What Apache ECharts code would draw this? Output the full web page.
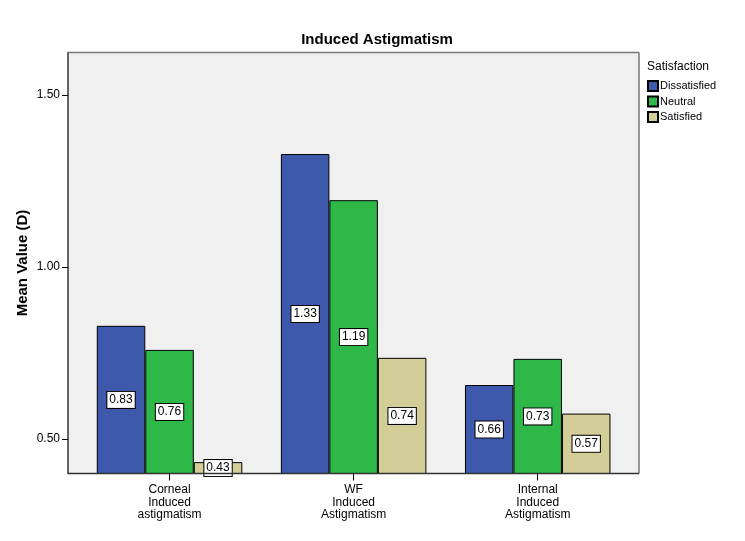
<!DOCTYPE html>
<html>
<head>
<meta charset="utf-8">
<script src="https://cdn.jsdelivr.net/npm/echarts@6/dist/echarts.min.js"></script>
<style>html,body{margin:0;padding:0;background:#fff}#c{width:745px;height:541px}</style>
</head>
<body>
<div id="c"></div>
<script>
var categories = ['Corneal\nInduced\nastigmatism', 'WF\nInduced\nAstigmatism', 'Internal\nInduced\nAstigmatism'];
var seriesNames = ['Dissatisfied', 'Neutral', 'Satisfied'];
var dissatisfied = [0.829, 1.328, 0.657];
var neutral = [0.759, 1.194, 0.733];
var satisfied = [0.433, 0.736, 0.574];
var yTicks = [0.5, 1.0, 1.5];
var colors = ['#3E58AC', '#2EB848', '#D3CE97'];

var FONT = '"Liberation Sans", Arial, sans-serif';
var chart = echarts.init(document.getElementById('c'), null, {renderer: 'canvas'});

function mkSeries(name, data, color) {
  return {
    name: name,
    type: 'bar',
    data: data,
    barWidth: 48.5,
    barGap: '0%',
    itemStyle: {color: color, borderColor: '#000', borderWidth: 1},
    label: {
      show: true,
      position: 'inside',
      formatter: function (p) { return p.value.toFixed(2); },
      fontFamily: FONT,
      fontSize: 12,
      color: '#000',
      backgroundColor: '#fff',
      borderColor: '#000',
      borderWidth: 1,
      padding: [2, 2, 1, 2],
      lineHeight: 13
    },
    emphasis: {disabled: true},
    z: 3
  };
}

var option = {
  animation: false,
  textStyle: {fontFamily: FONT},
  title: [
    {text: 'Induced Astigmatism', left: 372, top: 27, textAlign: 'center',
     textStyle: {fontFamily: FONT, fontSize: 15, fontWeight: 'bold', color: '#000'}},
    {text: 'Satisfaction', left: 647, top: 61, padding: 0,
     textStyle: {fontFamily: FONT, fontSize: 12, fontWeight: 'normal', color: '#000'}}
  ],
  legend: {
    orient: 'vertical', left: 647, top: 80, padding: 0,
    itemWidth: 10, itemHeight: 10, itemGap: 3.5,
    icon: 'rect',
    textStyle: {fontFamily: FONT, fontSize: 11, color: '#000', padding: [0, 0, 0, -3]},
    data: seriesNames
  },
  grid: {left: 77.5, right: 115.25, top: 52.5, bottom: 67.5, containLabel: false},
  xAxis: {
    type: 'category',
    data: categories,
    axisLine: {show: false},
    axisTick: {show: true, alignWithLabel: true, length: 7, lineStyle: {color: '#000'}},
    axisLabel: {fontFamily: FONT, fontSize: 12, color: '#000', lineHeight: 12.5, margin: 10}
  },
  yAxis: {
    type: 'value',
    min: 0.4, max: 1.623,
    offset: 9.5,
    name: 'Mean Value (D)',
    nameLocation: 'middle',
    nameGap: 38,
    nameMoveOverlap: false,
    nameTextStyle: {fontFamily: FONT, fontSize: 15, fontWeight: 'bold', color: '#000'},
    axisLine: {show: true, lineStyle: {color: '#333', width: 1.5}},
    axisTick: {show: true, length: 6, customValues: yTicks, lineStyle: {color: '#000'}},
    axisLabel: {fontFamily: FONT, fontSize: 12, color: '#000', margin: 8, customValues: yTicks,
      formatter: function (v) { return v.toFixed(2); }},
    splitLine: {show: false}
  },
  graphic: [
    {type: 'rect', z: -10, shape: {x: 68, y: 52.5, width: 571, height: 421}, style: {fill: '#F0F0F0'}, silent: true},
    {type: 'line', z: 10, shape: {x1: 68, y1: 52.5, x2: 639, y2: 52.5}, style: {stroke: '#777', lineWidth: 1.5}, silent: true},
    {type: 'line', z: 10, shape: {x1: 639, y1: 52.5, x2: 639, y2: 473.5}, style: {stroke: '#777', lineWidth: 1.5}, silent: true},
    {type: 'line', z: 10, shape: {x1: 68, y1: 473.5, x2: 639, y2: 473.5}, style: {stroke: '#333', lineWidth: 1.5}, silent: true}
  ],
  series: [
    mkSeries(seriesNames[0], dissatisfied, colors[0]),
    mkSeries(seriesNames[1], neutral, colors[1]),
    mkSeries(seriesNames[2], satisfied, colors[2])
  ]
};
chart.setOption(option);
</script>
</body>
</html>
